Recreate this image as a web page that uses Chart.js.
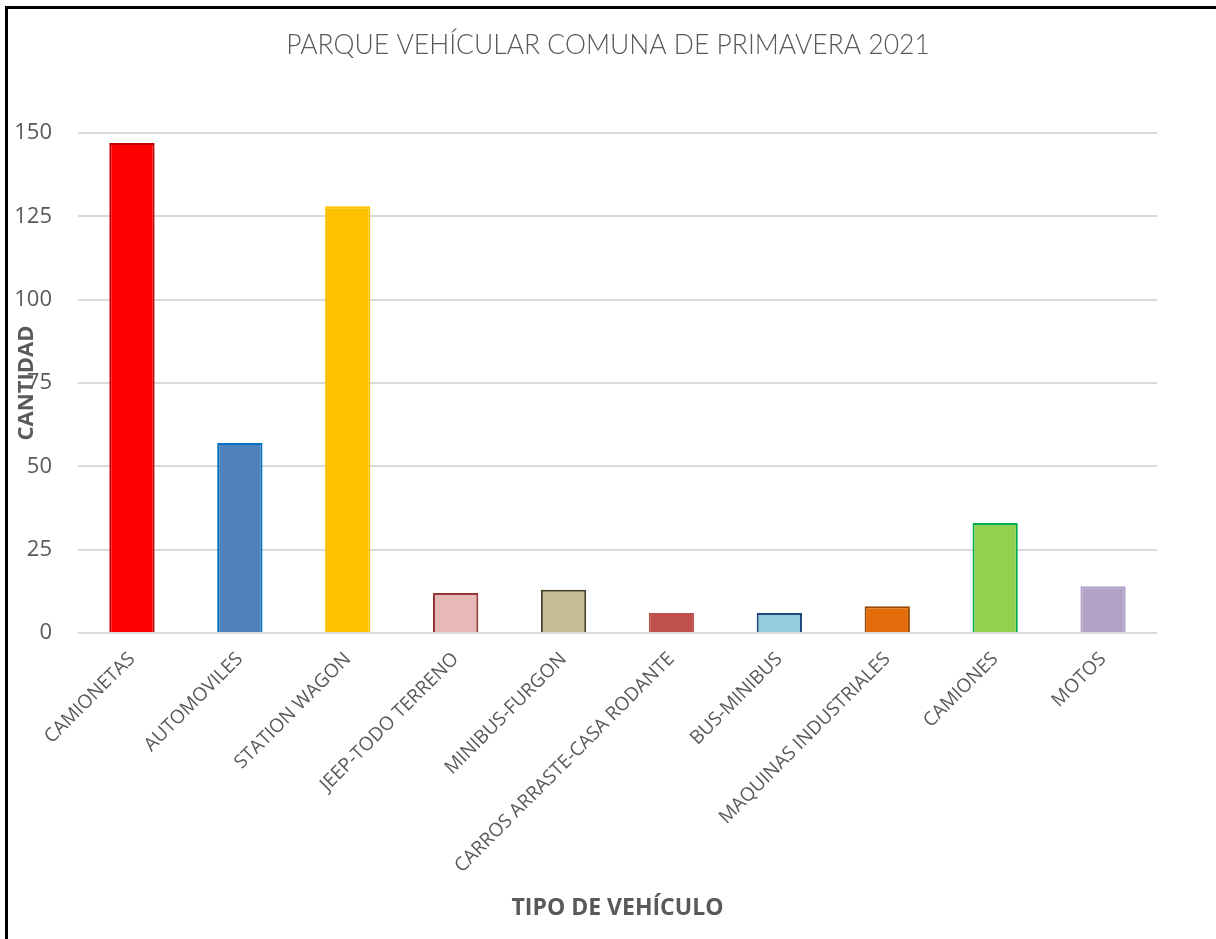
<!DOCTYPE html>
<html>
<head>
<meta charset="utf-8">
<script src="https://cdn.jsdelivr.net/npm/chart.js@4.4.1/dist/chart.umd.min.js"></script>
<style>
  body { margin: 0; background: #fff; }
  #wrap { position: relative; width: 1216px; height: 939px; overflow: hidden; }
  #frame {
    position: absolute; left: 5px; top: 6px; width: 1300px; height: 1000px;
    border-left: 3px solid #000; border-top: 3px solid #000; pointer-events: none;
  }
</style>
</head>
<body>
<div id="wrap">
  <canvas id="myBarChart" width="1216" height="939"></canvas>
  <div id="frame"></div>
</div>
<script>

const categories = ['CAMIONETAS', 'AUTOMOVILES', 'STATION WAGON', 'JEEP-TODO TERRENO', 'MINIBUS-FURGON',
  'CARROS ARRASTE-CASA RODANTE', 'BUS-MINIBUS', 'MAQUINAS INDUSTRIALES', 'CAMIONES', 'MOTOS'];
const cantidades = [147, 57, 128, 12, 13, 6, 6, 8, 33, 14];

const yTicks = [0, 25, 50, 75, 100, 125, 150];

const chartTitle = 'PARQUE VEHÍCULAR COMUNA DE PRIMAVERA 2021';

const fillColors = ['#FF0000', '#4F81BD', '#FFC000', '#E6B9B8', '#C4BD97',
  '#C0504D', '#93CDDD', '#E46C0A', '#92D050', '#B3A2C7'];
const borderColors = ['#C00000', '#0070C0', '#FFC000', '#953735', '#494429',
  '#C0504D', '#1F497D', '#974806', '#00B050', '#B3A2C7'];

const gray = '#595959';

// title centred on the whole canvas, not on the plot box
const pageTitle = {
  id: 'pageTitle',
  afterDraw(chart) {
    const c = chart.ctx;
    c.save();
    c.font = '300 26.5px Lato';
    c.fillStyle = gray;
    c.textAlign = 'center';
    c.textBaseline = 'middle';
    c.fillText(chartTitle, chart.width / 2, 45);
    c.restore();
  }
};

function renderBarChart() {

  const ctx = document.getElementById('myBarChart').getContext('2d');
  const chart = new Chart(ctx, {
    type: 'bar',
    data: {
      labels: categories,
      datasets: [{
        label: 'CANTIDAD',
        data: cantidades,
        backgroundColor: fillColors,
        borderColor: borderColors,
        borderWidth: 2,
        categoryPercentage: 1,
        barPercentage: 0.42
      }]
    },
    options: {
      responsive: false,
      animation: false,
      layout: {
        padding: { left: 14, right: 59, top: 133, bottom: 0 }
      },
      plugins: {
        legend: { display: false },
        tooltip: { enabled: false },
        title: { display: false }
      },
      scales: {
        x: {
          grid: { display: false, drawTicks: false },
          border: { display: false },
          ticks: {
            color: gray,
            font: { family: 'Open Sans', size: 19 },
            maxRotation: 45,
            minRotation: 45,
            padding: 15,
            autoSkip: false
          },
          title: {
            display: true,
            text: 'TIPO DE VEHÍCULO',
            color: gray,
            font: { family: 'Open Sans', size: 23, weight: 'bold' },
            padding: { top: 0, bottom: 17 }
          },
          afterFit: function(scale) {
            scale.height = 306;
          }
        },
        y: {
          min: 0,
          max: 150,
          afterBuildTicks: function(scale) {
            scale.ticks = yTicks.map(v => ({ value: v }));
          },
          grid: { color: '#D9D9D9', lineWidth: 2, drawTicks: false },
          border: { display: false },
          ticks: {
            color: gray,
            font: { family: 'Open Sans', size: 22 },
            padding: 26
          },
          title: {
            display: true,
            text: 'CANTIDAD',
            color: gray,
            font: { family: 'Open Sans', size: 22, weight: 'bold' },
            padding: 0
          },
          afterFit: function(scale) {
            scale.width = 64;
          }
        }
      }
    },
    plugins: [pageTitle]
  });
}

renderBarChart();
</script>
</body>
</html>
